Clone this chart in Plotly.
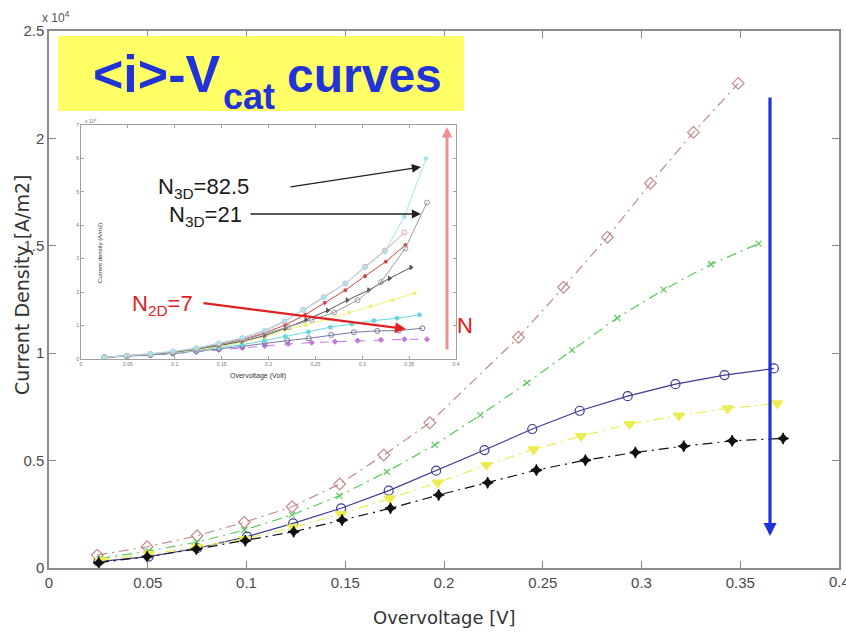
import plotly.graph_objects as go

# ---------------- main curves: current density (x 1e4 A/m2) vs overvoltage (V)
rose_v = [0.0244, 0.0497, 0.075, 0.0989, 0.1231, 0.1472, 0.1695, 0.1928, 0.2377, 0.2605, 0.2827, 0.3045, 0.3263, 0.349]
rose_j = [0.060, 0.099, 0.150, 0.213, 0.285, 0.391, 0.526, 0.676, 1.074, 1.307, 1.540, 1.791, 2.028, 2.256]

green_v = [0.026, 0.0505, 0.075, 0.0989, 0.123, 0.147, 0.171, 0.1953, 0.2184, 0.242, 0.2649, 0.2877, 0.3112, 0.3352, 0.3593]
green_j = [0.045, 0.079, 0.120, 0.177, 0.247, 0.336, 0.448, 0.573, 0.712, 0.862, 1.014, 1.164, 1.296, 1.414, 1.510]

blue_v = [0.025, 0.0505, 0.075, 0.1003, 0.1236, 0.1479, 0.172, 0.196, 0.2205, 0.2447, 0.2687, 0.293, 0.3172, 0.342, 0.367]
blue_j = [0.030, 0.053, 0.092, 0.146, 0.208, 0.278, 0.360, 0.453, 0.549, 0.647, 0.732, 0.800, 0.856, 0.898, 0.929]

yellow_v = [0.026, 0.0505, 0.075, 0.099, 0.1236, 0.1479, 0.1725, 0.1968, 0.2215, 0.2454, 0.2694, 0.294, 0.3189, 0.3436, 0.3687]
yellow_j = [0.037, 0.065, 0.098, 0.135, 0.189, 0.251, 0.324, 0.397, 0.479, 0.552, 0.614, 0.670, 0.710, 0.743, 0.766]

black_v = [0.0252, 0.0497, 0.0746, 0.0994, 0.1239, 0.1484, 0.1729, 0.1973, 0.2221, 0.2468, 0.2716, 0.2969, 0.3214, 0.3459, 0.3717]
black_j = [0.025, 0.053, 0.088, 0.127, 0.169, 0.223, 0.278, 0.340, 0.397, 0.456, 0.502, 0.538, 0.567, 0.592, 0.603]

main_xticks = [0, 0.05, 0.1, 0.15, 0.2, 0.25, 0.3, 0.35, 0.4]
main_xlabels = ["0", "0.05", "0.1", "0.15", "0.2", "0.25", "0.3", "0.35", "0.4"]
main_yticks = [0, 0.5, 1, 1.5, 2, 2.5]
main_ylabels = ["0", "0.5", "1", "1.5", "2", "2.5"]

# ---------------- inset curves (x 1e4 A/m2)
low_v = [0.025, 0.049, 0.074, 0.098, 0.123, 0.147, 0.172, 0.196]

in_cyan_v = low_v + [0.217, 0.238, 0.259, 0.282, 0.303, 0.324, 0.345, 0.368]
in_cyan_j = [0.05, 0.10, 0.15, 0.23, 0.33, 0.47, 0.64, 0.86, 1.14, 1.47, 1.83, 2.26, 2.73, 3.21, 4.26, 6.0]

in_gray_v = low_v + [0.221, 0.246, 0.270, 0.295, 0.320, 0.346, 0.369]
in_gray_j = [0.05, 0.09, 0.14, 0.21, 0.30, 0.42, 0.57, 0.75, 0.95, 1.17, 1.39, 1.76, 2.30, 3.31, 4.68]

in_pink_v = low_v + [0.217, 0.237, 0.259, 0.282, 0.303, 0.324, 0.345]
in_pink_j = [0.05, 0.10, 0.15, 0.22, 0.32, 0.46, 0.62, 0.84, 1.12, 1.47, 1.85, 2.26, 2.76, 3.24, 3.78]

in_red_v = low_v + [0.218, 0.239, 0.260, 0.282, 0.303, 0.325, 0.346]
in_red_j = [0.05, 0.09, 0.14, 0.21, 0.31, 0.43, 0.58, 0.78, 1.02, 1.32, 1.68, 2.06, 2.48, 2.91, 3.41]

in_dgray_v = low_v + [0.218, 0.240, 0.263, 0.284, 0.307, 0.329, 0.352]
in_dgray_j = [0.05, 0.09, 0.14, 0.20, 0.29, 0.40, 0.53, 0.70, 0.92, 1.17, 1.45, 1.76, 2.06, 2.41, 2.74]

in_yellow_v = low_v + [0.217, 0.240, 0.263, 0.286, 0.309, 0.332, 0.356]
in_yellow_j = [0.05, 0.09, 0.13, 0.19, 0.27, 0.37, 0.50, 0.66, 0.86, 1.02, 1.19, 1.39, 1.57, 1.76, 1.97]

in_cyan2_v = low_v + [0.218, 0.2425, 0.266, 0.289, 0.3125, 0.337, 0.361]
in_cyan2_j = [0.05, 0.09, 0.13, 0.18, 0.25, 0.33, 0.43, 0.55, 0.67, 0.81, 0.95, 1.05, 1.15, 1.22, 1.32]

in_slate_v = low_v + [0.220, 0.243, 0.267, 0.291, 0.316, 0.339, 0.364]
in_slate_j = [0.05, 0.08, 0.12, 0.17, 0.23, 0.30, 0.38, 0.47, 0.55, 0.62, 0.72, 0.80, 0.84, 0.85, 0.92]

in_mag_v = low_v + [0.221, 0.246, 0.271, 0.295, 0.320, 0.345, 0.369]
in_mag_j = [0.05, 0.08, 0.12, 0.16, 0.21, 0.27, 0.33, 0.39, 0.45, 0.49, 0.52, 0.55, 0.57, 0.59, 0.59]

in_xticks = [0, 0.05, 0.1, 0.15, 0.2, 0.25, 0.3, 0.35, 0.4]
in_xlabels = ["0", "0.05", "0.1", "0.15", "0.2", "0.25", "0.3", "0.35", "0.4"]
in_yticks = [0, 1, 2, 3, 4, 5, 6, 7]
in_ylabels = ["0", "1", "2", "3", "4", "5", "6", "7"]

# ---------------- figure geometry (pixels)
W, H = 846, 634
L, R, T, B = 49, 839, 31, 568


def fx(p):
    return (p - L) / (R - L)


def fy(p):
    return (B - p) / (B - T)


SANS = "Liberation Sans"
DASHDOT = "10px,5px,2px,5px"
TICK_FONT = dict(family=SANS, size=15, color="#4a4a4a")

fig = go.Figure()

main_series = [
    (rose_v, rose_j, "#c48a8a", DASHDOT, "diamond-open", 9, 1.2),
    (green_v, green_j, "#5cc85c", DASHDOT, "x-thin-open", 6, 1.2),
    (blue_v, blue_j, "#3c3c96", "solid", "circle-open", 9, 1.2),
    (yellow_v, yellow_j, "#ecec52", DASHDOT, "triangle-down", 10, 1.2),
    (black_v, black_j, "#111111", DASHDOT, "star-diamond", 8, 1.2),
]
for v, j, col, dash, sym, size, lw in main_series:
    fig.add_trace(go.Scatter(
        x=v, y=j, mode="lines+markers", xaxis="x", yaxis="y",
        line=dict(color=col, width=lw, dash=dash),
        marker=dict(symbol=sym, size=size, color=col, line=dict(color=col, width=1.2)),
        showlegend=False, hoverinfo="skip"))

# white panel that holds the inset
fig.add_trace(go.Scatter(x=[None], y=[None], xaxis="x2", yaxis="y2",
                         showlegend=False, hoverinfo="skip"))

inset_series = [
    (in_mag_v, in_mag_j, "#c478dc", "dash", "diamond", 4),
    (in_slate_v, in_slate_j, "#7878a0", "solid", "circle-open", 5),
    (in_cyan2_v, in_cyan2_j, "#6ad6e0", "solid", "circle", 4),
    (in_yellow_v, in_yellow_j, "#f0f078", "solid", "circle", 3),
    (in_dgray_v, in_dgray_j, "#555555", "solid", "triangle-right", 4),
    (in_red_v, in_red_j, "#cc4444", "solid", "circle", 3),
    (in_gray_v, in_gray_j, "#9a9a9a", "solid", "circle-open", 5),
    (in_pink_v, in_pink_j, "#d8a4ae", "solid", "circle-open", 5),
    (in_cyan_v, in_cyan_j, "#a8e4ec", "solid", "circle", 4),
]
for v, j, col, dash, sym, size in inset_series:
    fig.add_trace(go.Scatter(
        x=v, y=j, mode="lines+markers", xaxis="x3", yaxis="y3",
        line=dict(color=col, width=1, dash=dash),
        marker=dict(symbol=sym, size=size, color=col, line=dict(color=col, width=1)),
        showlegend=False, hoverinfo="skip"))

frame = dict(showline=True, linecolor="#8a8a8a", linewidth=1.5, mirror="ticks",
             ticks="inside", ticklen=7, tickcolor="#8a8a8a", tickwidth=1,
             showgrid=False, zeroline=False, automargin=False)

in_frame = dict(showline=True, linecolor="#a0a0a0", linewidth=1, mirror="ticks",
                ticks="inside", ticklen=3, tickcolor="#a0a0a0", tickwidth=1,
                showgrid=False, zeroline=False, automargin=False,
                tickfont=dict(family=SANS, size=5, color="#777777"))

# the last x label sits on the page edge, so it is written separately
axis_xlabels = main_xlabels[:-1] + [""]

fig.update_layout(
    width=W, height=H,
    margin=dict(l=L, r=W - R, t=T, b=H - B, autoexpand=False),
    paper_bgcolor="white", plot_bgcolor="white",
    xaxis=dict(range=[0, 0.4], tickvals=main_xticks, ticktext=axis_xlabels,
               tickfont=TICK_FONT, **frame),
    yaxis=dict(range=[0, 2.5], tickvals=main_yticks, ticktext=main_ylabels,
               tickfont=TICK_FONT, **frame),
    xaxis2=dict(domain=[fx(62), fx(482)], anchor="y2", visible=False, range=[0, 1]),
    yaxis2=dict(domain=[fy(373), fy(114)], anchor="x2", visible=False, range=[0, 1]),
    xaxis3=dict(domain=[fx(81), fx(456)], anchor="y3", range=[0, 0.4],
                tickvals=in_xticks, ticktext=in_xlabels, **in_frame),
    yaxis3=dict(domain=[fy(359), fy(125)], anchor="x3", range=[0, 7],
                tickvals=in_yticks, ticktext=in_ylabels, **in_frame),
)

# title banner
fig.add_shape(type="rect", xref="paper", yref="paper",
              x0=fx(58), x1=fx(464), y0=fy(111), y1=fy(36),
              fillcolor="#ffff66", line=dict(width=0), layer="above")

BLUE = "#1f33d6"
ann = []
ann.append(dict(text="<b>&lt;i&gt;-V</b>", x=fx(221), y=fy(104), xanchor="right", yanchor="bottom",
                font=dict(family=SANS, size=52, color=BLUE)))
ann.append(dict(text="<b>cat</b>", x=fx(222), y=fy(118), xanchor="left", yanchor="bottom",
                font=dict(family=SANS, size=36, color=BLUE)))
ann.append(dict(text="<b>curves</b>", x=fx(286), y=fy(103), xanchor="left", yanchor="bottom",
                font=dict(family=SANS, size=48, color=BLUE)))

# last x tick label
ann.append(dict(text=main_xlabels[-1], x=1, y=0, yshift=-4, xanchor="center", yanchor="top",
                font=TICK_FONT))

# axis titles and exponent labels
ann.append(dict(text="Overvoltage [V]", x=fx(444), y=fy(617), xanchor="center", yanchor="middle",
                font=dict(family="DejaVu Sans", size=18, color="#333333")))
ann.append(dict(text="Current Density [A/m2]", x=fx(22), y=fy(285), xanchor="center", yanchor="middle",
                textangle=-90, font=dict(family="DejaVu Sans", size=19, color="#333333")))
ann.append(dict(text="x 10<sup>4</sup>", x=fx(56), y=fy(17), xanchor="center", yanchor="middle",
                font=dict(family=SANS, size=12, color="#555555")))

ann.append(dict(text="Overvoltage (Volt)", x=fx(258), y=fy(376), xanchor="center", yanchor="middle",
                font=dict(family=SANS, size=7, color="#333333")))
ann.append(dict(text="Current density (A/m2)", x=fx(100), y=fy(253), xanchor="center", yanchor="middle",
                textangle=-90, font=dict(family=SANS, size=6, color="#333333")))
ann.append(dict(text="x 10<sup>4</sup>", x=fx(90), y=fy(121), xanchor="center", yanchor="middle",
                font=dict(family=SANS, size=5, color="#777777")))

# inset labels
ann.append(dict(text="N<sub>3D</sub>=82.5", x=fx(157), y=fy(188), xanchor="left", yanchor="middle",
                font=dict(family=SANS, size=22, color="#1a1a1a")))
ann.append(dict(text="N<sub>3D</sub>=21", x=fx(168), y=fy(216), xanchor="left", yanchor="middle",
                font=dict(family=SANS, size=22, color="#1a1a1a")))
ann.append(dict(text="N<sub>2D</sub>=7", x=fx(131), y=fy(305), xanchor="left", yanchor="middle",
                font=dict(family=SANS, size=22, color="#e02020")))
ann.append(dict(text="N", x=fx(465), y=fy(326), xanchor="center", yanchor="middle",
                font=dict(family=SANS, size=22, color="#e02020")))


def arrow(tail, tip, color, width, size):
    return dict(text="", x=fx(tip[0]), y=fy(tip[1]), showarrow=True,
                ax=tail[0] - tip[0], ay=tail[1] - tip[1],
                arrowhead=2, arrowcolor=color, arrowwidth=width, arrowsize=size, standoff=0)


ann.append(arrow((290, 187), (421, 167), "#222222", 1.3, 1.4))
ann.append(arrow((250, 214), (421, 214), "#222222", 1.3, 1.4))
ann.append(arrow((203, 303), (406, 329), "#e02020", 2.2, 1.0))
ann.append(arrow((447, 350), (447, 127), "#f09090", 3.0, 0.7))
ann.append(arrow((770, 97), (770, 536), "#1e32dc", 3.2, 0.82))

for a in ann:
    a.setdefault("showarrow", False)
    a.update(xref="paper", yref="paper", borderpad=0)
fig.update_layout(annotations=ann)

fig.write_html("out.html")
